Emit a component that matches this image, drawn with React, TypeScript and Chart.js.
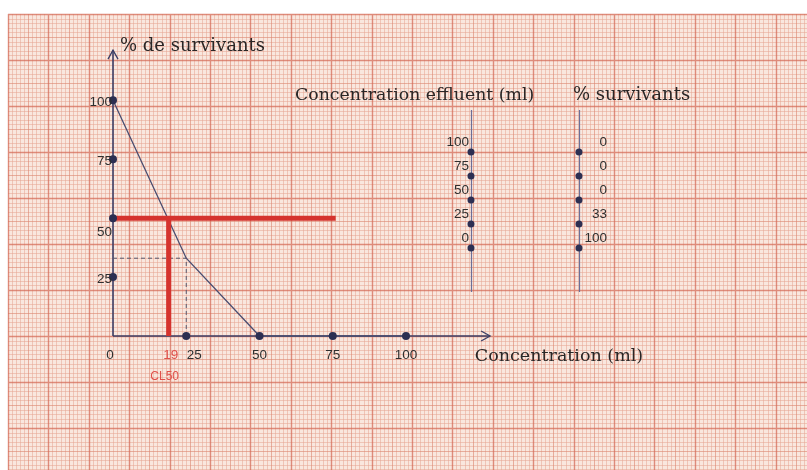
import React, { useEffect, useRef } from 'react';
import { Chart, registerables } from 'chart.js';

Chart.register(...registerables);

// ---- data ----
const concentrations = [0, 25, 50, 75, 100];
const survival = [100, 33, 0, 0, 0];
const xTickValues = [0, 25, 50, 75, 100];
const xTickLabels = ['0', '25', '50', '75', '100'];
const yTickValues = [25, 50, 75, 100];
const yTickLabels = ['25', '50', '75', '100'];
const cl50 = 19;
const cl50Label = 'CL50';
const halfSurvival = 50;
const cl50LineEnd = 76;
const guideIndex = 1; // point (25, 33) used for the dashed guides
const tableConc = [100, 75, 50, 25, 0];
const tableSurvival = [0, 0, 0, 33, 100];
const tableHeaders = ['Concentration effluent (ml)', '% survivants'];
const yAxisTitle = '% de survivants';
const xAxisTitle = 'Concentration (ml)';

const INK = '#2c2f52';
const AXIS = '#3c3f66';
const RED = '#d5332e';
const RED_TEXT = '#e0504a';
const TEXT = '#2a2626';
const LABEL = '#2f2f2f';
const SERIF = '"DejaVu Serif", "Liberation Serif", serif';
const SANS = '"Liberation Sans", "DejaVu Sans", sans-serif';

const paperPlugin = {
  id: 'paper',
  beforeDraw(chart: any) {
    const ctx = chart.ctx;
    const W = chart.width;
    const H = chart.height;
    ctx.save();
    ctx.fillStyle = '#ffffff';
    ctx.fillRect(0, 0, W, H);
    const x0 = 8;
    const y0 = 14;
    ctx.fillStyle = '#f9e7de';
    ctx.fillRect(x0, y0, W - x0, H - y0);
    const dx = 4.04;
    const dy = 4.6;
    const styles = [
      { c: 'rgba(230,165,146,0.52)', w: 1 },
      { c: 'rgba(220,135,115,0.62)', w: 1 },
      { c: 'rgba(212,108,88,0.75)', w: 1.4 },
    ];
    for (let level = 0; level < 3; level++) {
      ctx.strokeStyle = styles[level].c;
      ctx.lineWidth = styles[level].w;
      ctx.beginPath();
      for (let i = 0; x0 + i * dx <= W + 1; i++) {
        const lv = i % 10 === 0 ? 2 : i % 5 === 0 ? 1 : 0;
        if (lv !== level) continue;
        const x = Math.round(x0 + i * dx) + 0.5;
        ctx.moveTo(x, y0);
        ctx.lineTo(x, H);
      }
      for (let j = 0; y0 + j * dy <= H + 1; j++) {
        const lv = j % 10 === 0 ? 2 : j % 5 === 0 ? 1 : 0;
        if (lv !== level) continue;
        const y = Math.round(y0 + j * dy) + 0.5;
        ctx.moveTo(x0, y);
        ctx.lineTo(W, y);
      }
      ctx.stroke();
    }
    ctx.restore();
  },
};

const axesPlugin = {
  id: 'handAxes',
  beforeDatasetsDraw(chart: any) {
    const ctx = chart.ctx;
    const xs = chart.scales.x;
    const ys = chart.scales.y;
    const x2 = chart.scales.x2;
    const y2 = chart.scales.y2;
    const ox = xs.getPixelForValue(0);
    const oy = ys.getPixelForValue(0);
    const topY = ys.getPixelForValue(121.3);
    const endX = xs.getPixelForValue(128.7);
    ctx.save();
    ctx.strokeStyle = AXIS;
    ctx.lineWidth = 1.6;
    ctx.beginPath();
    ctx.moveTo(ox, oy);
    ctx.lineTo(ox, topY);
    ctx.moveTo(ox, oy);
    ctx.lineTo(endX, oy);
    ctx.stroke();
    ctx.lineWidth = 1.3;
    ctx.beginPath();
    ctx.moveTo(ox - 5, topY + 9);
    ctx.lineTo(ox, topY);
    ctx.lineTo(ox + 5, topY + 9);
    ctx.moveTo(endX - 9, oy - 5);
    ctx.lineTo(endX, oy);
    ctx.lineTo(endX - 9, oy + 5);
    ctx.stroke();

    // table column lines
    ctx.strokeStyle = '#6c6f98';
    ctx.lineWidth = 1.2;
    const top = y2.getPixelForValue(100) - 42;
    const bottom = y2.getPixelForValue(0) + 44;
    [0, 1].forEach((c) => {
      const px = Math.round(x2.getPixelForValue(c)) + 0.5;
      ctx.beginPath();
      ctx.moveTo(px, top);
      ctx.lineTo(px, bottom);
      ctx.stroke();
    });
    ctx.restore();
  },
};

const textPlugin = {
  id: 'handText',
  afterDatasetsDraw(chart: any) {
    const ctx = chart.ctx;
    const xs = chart.scales.x;
    const ys = chart.scales.y;
    const x2 = chart.scales.x2;
    const y2 = chart.scales.y2;
    const ox = xs.getPixelForValue(0);
    const oy = ys.getPixelForValue(0);
    ctx.save();
    ctx.fillStyle = TEXT;
    ctx.textBaseline = 'alphabetic';
    ctx.font = `18px ${SERIF}`;
    ctx.textAlign = 'left';
    ctx.fillText(yAxisTitle, ox + 7, 51);
    ctx.font = `17.5px ${SERIF}`;
    ctx.fillText(xAxisTitle, xs.getPixelForValue(123.5), 361);
    ctx.font = `17.3px ${SERIF}`;
    ctx.fillText(tableHeaders[0], 295, 100);
    ctx.font = `18px ${SERIF}`;
    ctx.fillText(tableHeaders[1], 573, 100);

    // y tick labels
    ctx.font = `13.5px ${SANS}`;
    ctx.fillStyle = LABEL;
    ctx.textBaseline = 'middle';
    ctx.textAlign = 'right';
    yTickValues.forEach((v, i) => {
      const shift = v === halfSurvival ? 14 : 2;
      ctx.fillText(yTickLabels[i], ox - 1, ys.getPixelForValue(v) + shift);
    });
    // x tick labels
    ctx.textAlign = 'center';
    xTickValues.forEach((v, i) => {
      const shift = v === 0 ? -3 : v === 25 ? 8 : 0;
      ctx.fillText(xTickLabels[i], xs.getPixelForValue(v) + shift, oy + 19);
    });
    ctx.fillStyle = RED_TEXT;
    ctx.fillText(String(cl50), xs.getPixelForValue(cl50) + 2, oy + 19);
    ctx.font = `12px ${SANS}`;
    ctx.fillText(cl50Label, xs.getPixelForValue(cl50) - 4, oy + 41);

    // table labels
    ctx.font = `13.5px ${SANS}`;
    ctx.fillStyle = LABEL;
    ctx.textAlign = 'right';
    tableConc.forEach((c, i) => {
      const py = y2.getPixelForValue(c) - 10;
      ctx.fillText(String(c), x2.getPixelForValue(0) - 2, py);
      ctx.fillText(String(tableSurvival[i]), x2.getPixelForValue(1) + 28, py);
    });
    ctx.restore();
  },
};

export default function App() {
  const ref = useRef<HTMLCanvasElement | null>(null);

  useEffect(() => {
    if (!ref.current) return;
    const guideX = concentrations[guideIndex];
    const guideY = survival[guideIndex];
    const chart = new Chart(ref.current, {
      type: 'scatter',
      data: {
        datasets: [
          {
            label: 'axis marks',
            data: [
              ...yTickValues.map((v) => ({ x: 0, y: v })),
              ...xTickValues.filter((v) => v > 0).map((v) => ({ x: v, y: 0 })),
            ],
            showLine: false,
            pointRadius: 4,
            pointBackgroundColor: INK,
            pointBorderWidth: 0,
            clip: false,
          } as any,
          {
            label: 'CL50 horizontal',
            data: [
              { x: 0, y: halfSurvival },
              { x: cl50LineEnd, y: halfSurvival },
            ],
            showLine: true,
            borderColor: RED,
            borderWidth: 5,
            pointRadius: 0,
            clip: false,
          } as any,
          {
            label: 'CL50 vertical',
            data: [
              { x: cl50, y: halfSurvival },
              { x: cl50, y: 0 },
            ],
            showLine: true,
            borderColor: RED,
            borderWidth: 5,
            pointRadius: 0,
            clip: false,
          } as any,
          {
            label: '% de survivants',
            data: concentrations.map((c, i) => ({ x: c, y: survival[i] })),
            showLine: true,
            borderColor: '#4a4d70',
            borderWidth: 1.3,
            pointRadius: 0,
            tension: 0,
            clip: false,
          } as any,
          {
            label: 'guide',
            data: [
              { x: 0, y: guideY },
              { x: guideX, y: guideY },
              { x: guideX, y: 0 },
            ],
            showLine: true,
            borderColor: '#55586e',
            borderWidth: 1,
            borderDash: [4, 3],
            pointRadius: 0,
            clip: false,
          } as any,
          {
            label: 'Concentration effluent (ml)',
            data: tableConc.map((c) => ({ x: 0, y: c })),
            xAxisID: 'x2',
            yAxisID: 'y2',
            showLine: false,
            pointRadius: 3.5,
            pointBackgroundColor: INK,
            pointBorderWidth: 0,
            clip: false,
          } as any,
          {
            label: '% survivants',
            data: tableConc.map((c) => ({ x: 1, y: c })),
            xAxisID: 'x2',
            yAxisID: 'y2',
            showLine: false,
            pointRadius: 3.5,
            pointBackgroundColor: INK,
            pointBorderWidth: 0,
            clip: false,
          } as any,
        ],
      },
      options: {
        animation: false,
        responsive: false,
        events: [],
        layout: { padding: { left: 113, right: 108, top: 6, bottom: 134 } },
        plugins: { legend: { display: false }, tooltip: { enabled: false } },
        scales: {
          x: { type: 'linear', min: 0, max: 200, display: false },
          y: { type: 'linear', min: 0, max: 140, display: false },
          x2: { type: 'linear', min: -3.3147, max: 2.1112, display: false },
          y2: { type: 'linear', min: -91.67, max: 252.08, display: false },
        },
      } as any,
      plugins: [paperPlugin, axesPlugin, textPlugin],
    });
    return () => chart.destroy();
  }, []);

  return (
    <div style={{ position: 'absolute', left: 0, top: 0, width: 807, height: 470 }}>
      <canvas ref={ref} width={807} height={470} style={{ display: 'block' }} />
    </div>
  );
}
